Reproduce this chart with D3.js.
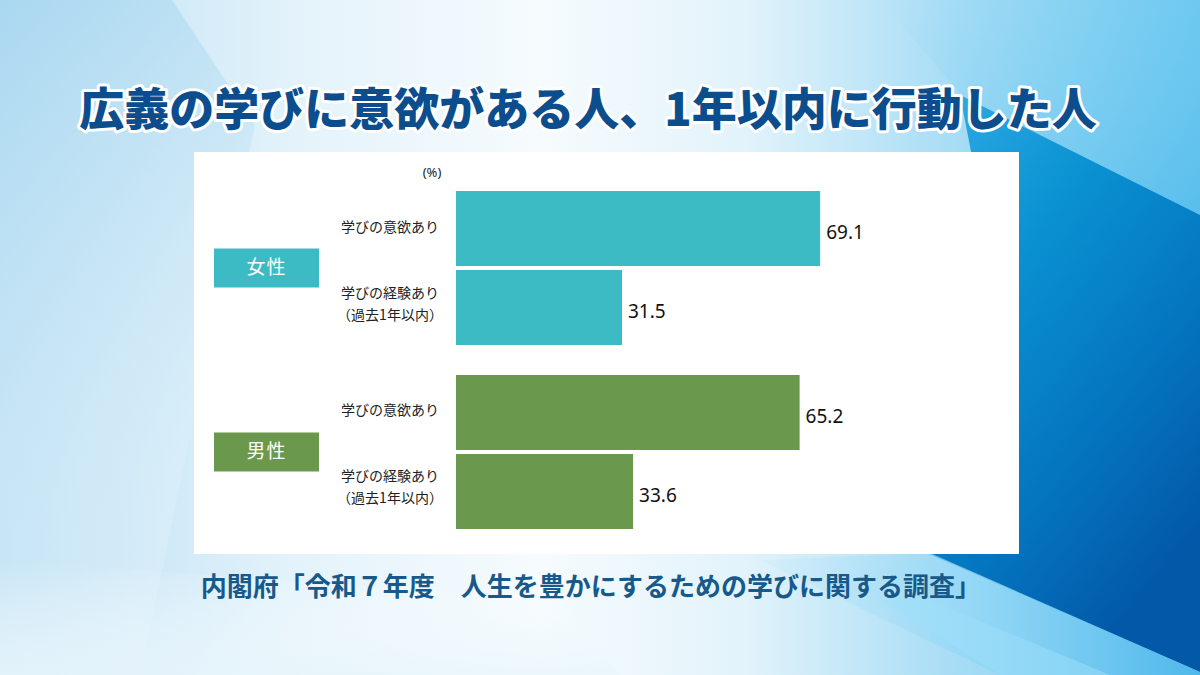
<!DOCTYPE html>
<html><head><meta charset="utf-8">
<script src="https://cdn.jsdelivr.net/npm/d3@7/dist/d3.min.js"></script>
<style>html,body{margin:0;padding:0;overflow:hidden;background:#fff}svg{display:block}</style>
</head><body>
<svg id="c" width="1200" height="675"></svg>
<script>
// ---- data ----
const titleText = "広義の学びに意欲がある人、1年以内に行動した人";
const sourceText = "内閣府「令和７年度　人生を豊かにするための学びに関する調査」";
const unitLabel = "(%)";
const groups = ["女性", "男性"];
const categories = ["意欲", "経験"];
const categoryLabels = [["学びの意欲あり"], ["学びの経験あり", "（過去1年以内）"]];
const femaleValues = [69.1, 31.5];
const maleValues = [65.2, 33.6];
const groupColors = ["#3dbbc5", "#6a994d"];

const W = 1200, H = 675;
const svg = d3.select("#c");
const defs = svg.append("defs");

function lin(id, x1, y1, x2, y2, stops) {
  const g = defs.append("linearGradient").attr("id", id)
    .attr("x1", x1).attr("y1", y1).attr("x2", x2).attr("y2", y2);
  stops.forEach(s => g.append("stop").attr("offset", s[0]).attr("stop-color", s[1]).attr("stop-opacity", s[2] == null ? 1 : s[2]));
}
lin("bg", 0, 0, 1, 0, [[0, "#b8def3"], [0.25, "#e4f3fb"], [0.45, "#f6fbfe"], [0.62, "#e2f3fb"], [0.8, "#a6dcf5"], [1, "#6fcaf1"]]);
lin("leftSheet", 0, 0, 0.3, 1, [[0, "#a8d7f0", 0.9], [0.6, "#cfe9f7", 0.6], [1, "#eef8fd", 0.2]]);
lin("dark", 0, 0, 0.6, 1, [[0, "#33aee6"], [0.35, "#0a92d2"], [0.7, "#0475c0"], [1, "#0358a8"]]);
lin("darkTop", 0, 0, 1, 1, [[0, "#8ad6f4", 0.0], [1, "#4fb9ea", 0.9]]);
lin("streak", 0, 0, 1, 0, [[0, "#bfe6f8", 0.2], [0.5, "#8fd6f6", 0.8], [1, "#4bb6ea", 0.9]]);
lin("bottomFade", 0, 0, 0, 1, [[0, "#ffffff", 0], [1, "#e9f6fc", 0.8]]);

// ---- background ----
svg.append("rect").attr("width", W).attr("height", H).attr("fill", "url(#bg)");
svg.append("path").attr("d", "M0,0 L172,0 L255,125 L140,675 L0,675 Z").attr("fill", "url(#leftSheet)");
svg.append("path").attr("d", "M0,560 L560,600 L620,675 L0,675 Z").attr("fill", "url(#bottomFade)");
svg.append("path").attr("d", "M880,0 L1200,0 L1200,260 L1000,140 Z").attr("fill", "url(#darkTop)");
svg.append("path").attr("d", "M960,95 L1200,215 L1200,672 L920,550 L1000,300 Z").attr("fill", "url(#dark)");
svg.append("path").attr("d", "M760,560 L930,553 L1200,672 L1200,675 L1000,675 Z").attr("fill", "url(#streak)");
svg.append("path").attr("d", "M1000,675 L880,600 L930,600 L1110,675 Z").attr("fill", "#9ee0fa").attr("opacity", 0.5);

// ---- title ----
svg.append("text").attr("x", 588).attr("y", 126)
  .attr("text-anchor", "middle")
  .attr("font-family", "'Noto Sans CJK JP', sans-serif")
  .attr("font-weight", 900).attr("font-size", 45)
  .attr("fill", "#0c4d8e").attr("stroke", "#ffffff").attr("stroke-width", 6)
  .attr("stroke-linejoin", "round").attr("paint-order", "stroke")
  .text(titleText);

// ---- panel ----
svg.append("rect").attr("x", 194).attr("y", 152).attr("width", 825).attr("height", 402).attr("fill", "#ffffff");

// ---- scales ----
const x = d3.scaleLinear().domain([0, 100]).range([456, 983]);
const yGroup = d3.scaleBand().domain(groups).range([191, 529]).paddingInner(0.163).paddingOuter(0);
const yCat = d3.scaleBand().domain(categories).range([0, yGroup.bandwidth()]).paddingInner(0.0506).paddingOuter(0);

const rows = [];
groups.forEach((g, gi) => {
  const vals = gi === 0 ? femaleValues : maleValues;
  categories.forEach((c, ci) => rows.push({ group: g, gi, cat: c, ci, value: vals[ci] }));
});

const gBars = svg.append("g");
gBars.selectAll("rect").data(rows).join("rect")
  .attr("x", x(0))
  .attr("y", d => yGroup(d.group) + yCat(d.cat))
  .attr("width", d => x(d.value) - x(0))
  .attr("height", yCat.bandwidth())
  .attr("fill", d => groupColors[d.gi]);

// value labels
gBars.selectAll("text.val").data(rows).join("text").attr("class", "val")
  .attr("x", d => x(d.value) + 6)
  .attr("y", d => yGroup(d.group) + yCat(d.cat) + yCat.bandwidth() / 2 + 5)
  .attr("dominant-baseline", "middle")
  .attr("font-family", "'Noto Sans', sans-serif").attr("font-size", 19)
  .attr("fill", "#111")
  .text(d => d.value.toFixed(1));

// category labels
const catG = svg.append("g").attr("font-family", "'Noto Sans CJK JP', sans-serif").attr("font-size", 14).attr("fill", "#222");
rows.forEach(d => {
  const lines = categoryLabels[d.ci];
  const cy = yGroup(d.group) + yCat(d.cat) + yCat.bandwidth() / 2;
  const t = catG.append("text").attr("text-anchor", "middle").attr("dominant-baseline", "middle");
  if (lines.length === 1) {
    t.append("tspan").attr("x", 390).attr("y", cy - 1).text(lines[0]);
  } else {
    t.append("tspan").attr("x", 390).attr("y", cy - 14).text(lines[0]);
    t.append("tspan").attr("x", 390).attr("y", cy + 8).text(lines[1]);
  }
});

// unit label
svg.append("text").attr("x", 432).attr("y", 174).attr("text-anchor", "middle")
  .attr("dominant-baseline", "middle")
  .attr("font-family", "'Noto Sans', sans-serif").attr("font-size", 13).attr("fill", "#222")
  .text(unitLabel);

// group boxes
const gBox = svg.append("g");
groups.forEach((g, gi) => {
  const cy = yGroup(g) + yGroup.bandwidth() / 2;
  gBox.append("rect").attr("x", 214).attr("y", cy - 19.5).attr("width", 105).attr("height", 39).attr("fill", groupColors[gi]);
  gBox.append("text").attr("x", 266.5).attr("y", cy + 1).attr("text-anchor", "middle").attr("dominant-baseline", "middle")
    .attr("font-family", "'Noto Sans CJK JP', sans-serif").attr("font-size", 19).attr("letter-spacing", 1)
    .attr("fill", "#ffffff").text(g);
});

// ---- source ----
svg.append("text").attr("x", 591).attr("y", 589).attr("text-anchor", "middle").attr("dominant-baseline", "middle")
  .attr("font-family", "'Noto Sans CJK JP', sans-serif").attr("font-weight", 700).attr("font-size", 26)
  .attr("fill", "#17598b")
  .text(sourceText);
</script>
</body></html>
